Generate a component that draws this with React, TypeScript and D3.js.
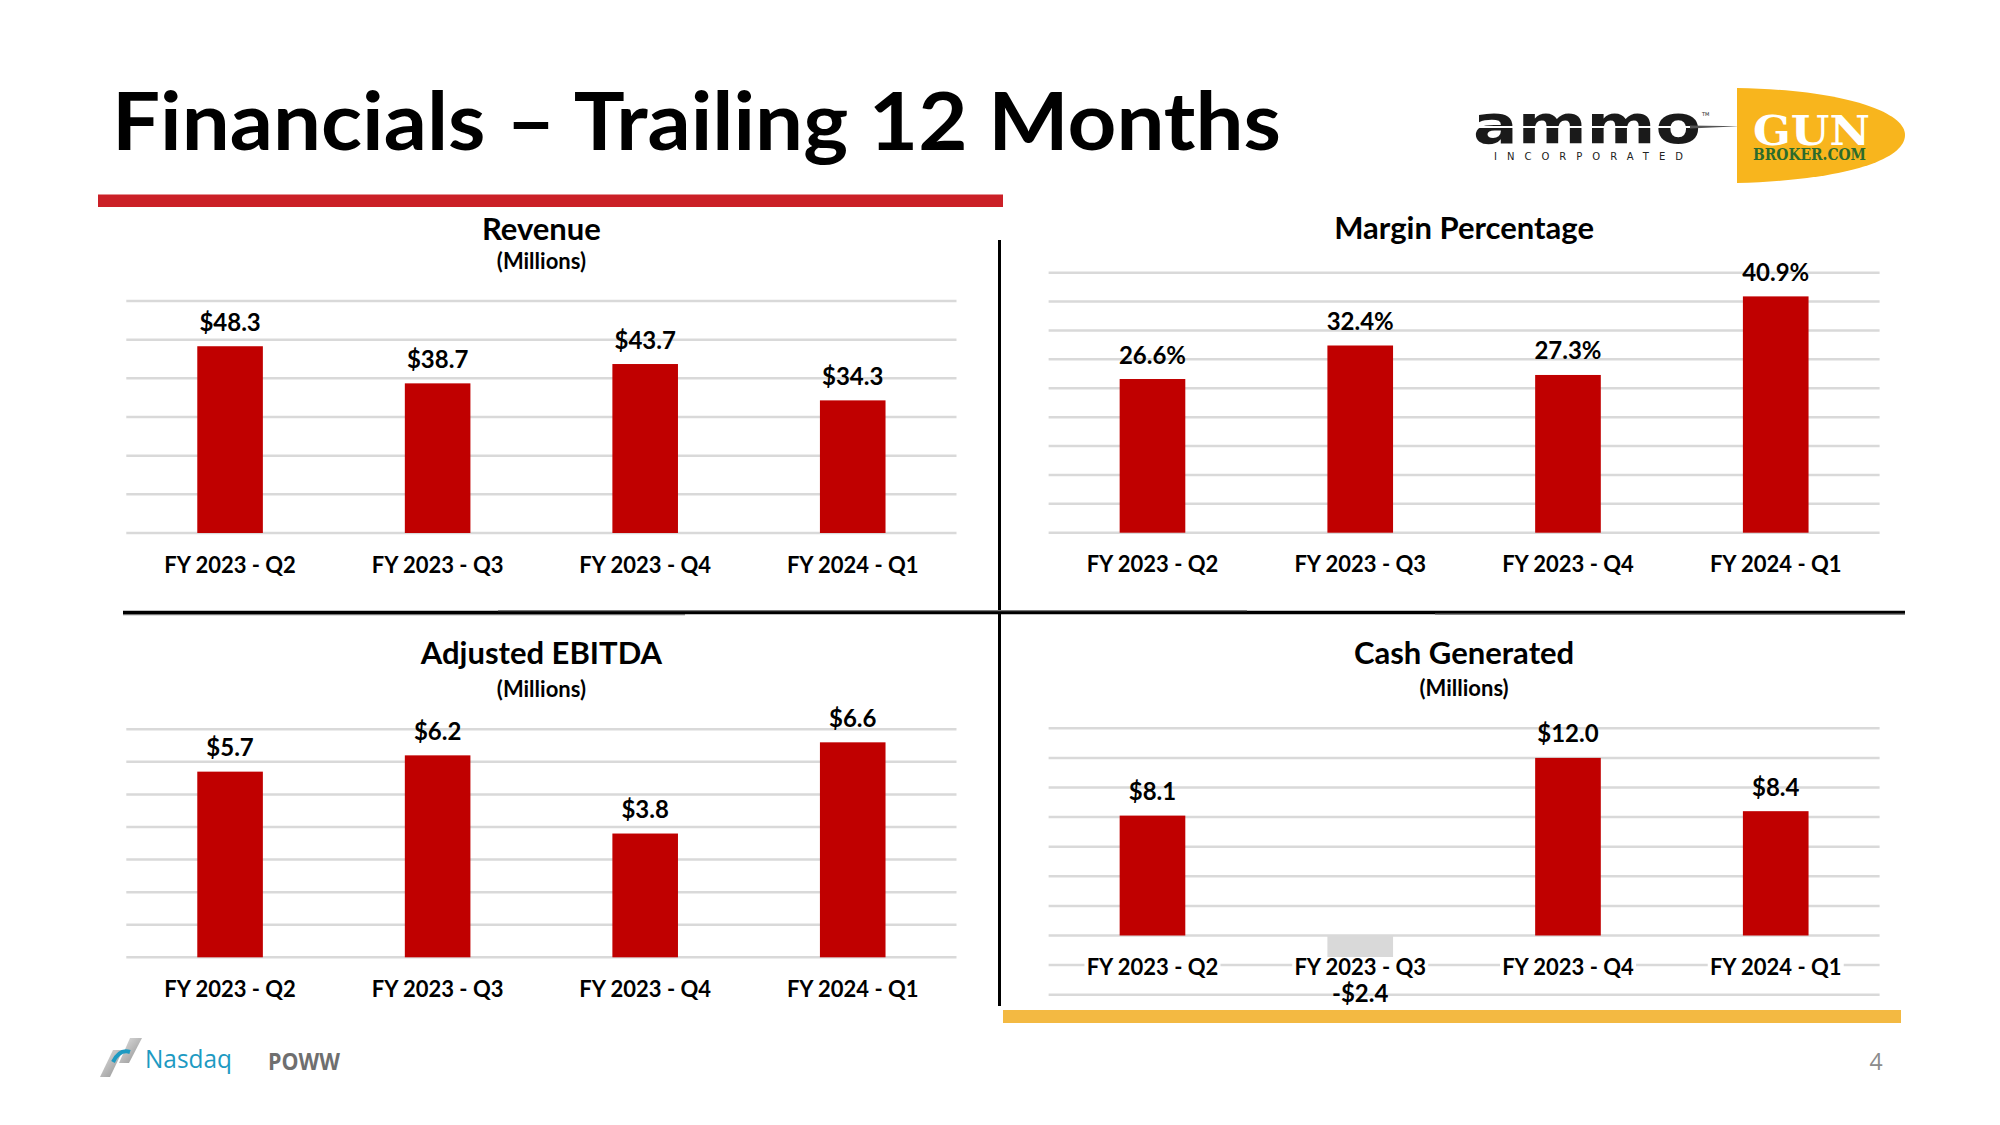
import { useEffect, useRef } from 'react'
import * as d3 from 'd3'

// ---- data ----
const quarters = ['FY 2023 - Q2', 'FY 2023 - Q3', 'FY 2023 - Q4', 'FY 2024 - Q1']
const revenue = [48.3, 38.7, 43.7, 34.3]
const marginPct = [26.6, 32.4, 27.3, 40.9]
const adjEbitda = [5.7, 6.2, 3.8, 6.6]
const cashGenerated = [8.1, -2.4, 12.0, 8.4]

const revenueDomain = [0, 60]
const marginDomain = [0, 45]
const ebitdaDomain = [0, 7]
const cashDomain = [-4, 14]

const W = 2000
const H = 1125
const FONT = 'Lato, "Open Sans", sans-serif'

const money = (v: number) => (v < 0 ? `-$${Math.abs(v).toFixed(1)}` : `$${v.toFixed(1)}`)
const pct = (v: number) => `${v.toFixed(1)}%`

interface Panel {
  title: string
  sub?: string
  values: number[]
  domain: number[]
  ticks: number
  fmt: (v: number) => string
  x0: number
  x1: number
  yTop: number
  yBot: number
  titleY: number
  subY?: number
}

const panels: Panel[] = [
  { title: 'Revenue', sub: '(Millions)', values: revenue, domain: revenueDomain, ticks: 6, fmt: money,
    x0: 126.3, x1: 956.5, yTop: 301, yBot: 533, titleY: 239.5, subY: 269 },
  { title: 'Margin Percentage', values: marginPct, domain: marginDomain, ticks: 9, fmt: pct,
    x0: 1048.6, x1: 1879.6, yTop: 272.7, yBot: 532.7, titleY: 238.5 },
  { title: 'Adjusted EBITDA', sub: '(Millions)', values: adjEbitda, domain: ebitdaDomain, ticks: 7, fmt: money,
    x0: 126.3, x1: 956.5, yTop: 729.3, yBot: 957.3, titleY: 664, subY: 697 },
  { title: 'Cash Generated', sub: '(Millions)', values: cashGenerated, domain: cashDomain, ticks: 9, fmt: money,
    x0: 1048.6, x1: 1879.6, yTop: 728.3, yBot: 994.7, titleY: 663.5, subY: 696 },
]

// squeeze/stretch a left-anchored text horizontally so it spans targetW
function fitText(sel: d3.Selection<SVGTextElement, unknown, null, undefined>, x: number, y: number, targetW: number) {
  const node = sel.node()!
  const w = node.getComputedTextLength() || targetW
  sel.attr('transform', `translate(${x},${y}) scale(${targetW / w},1)`)
}

export default function App() {
  const svgRef = useRef<SVGSVGElement>(null)

  useEffect(() => {
    if (!svgRef.current) return
    const svg = d3.select(svgRef.current)
    svg.selectAll('*').remove()

    svg.append('rect').attr('width', W).attr('height', H).attr('fill', '#fff')

    // title + red rule
    const title = svg.append('text')
      .style('font-family', FONT).style('font-weight', 700).style('font-size', '81px')
      .attr('fill', '#000')
      .text('Financials – Trailing 12 Months')
    fitText(title, 112, 150, 1169)

    svg.append('rect').attr('x', 98).attr('y', 194.5).attr('width', 905).attr('height', 12.5).attr('fill', '#CB2027')

    // dividers
    svg.append('line').attr('x1', 999.5).attr('x2', 999.5).attr('y1', 240).attr('y2', 1006)
      .attr('stroke', '#000').attr('stroke-width', 3)
    svg.append('line').attr('x1', 123).attr('x2', 1905).attr('y1', 612.5).attr('y2', 612.5)
      .attr('stroke', '#000').attr('stroke-width', 3.5)
    const greySegs = [[123, 685, 614.6], [498, 1247, 610.6], [1435, 1905, 614.2]]
    greySegs.forEach(([a, b, y]) => {
      svg.append('line').attr('x1', a).attr('x2', b).attr('y1', y).attr('y2', y)
        .attr('stroke', '#777').attr('stroke-width', 1.2)
    })

    // yellow rule
    svg.append('rect').attr('x', 1003).attr('y', 1010).attr('width', 898).attr('height', 13).attr('fill', '#F3B942')

    // charts
    panels.forEach(p => {
      const g = svg.append('g')
      const x = d3.scaleBand<string>().domain(quarters).range([p.x0, p.x1]).paddingInner(0.684).paddingOuter(0.342)
      const y = d3.scaleLinear().domain(p.domain).range([p.yBot, p.yTop])
      const cx = (p.x0 + p.x1) / 2

      g.append('text').attr('x', cx).attr('y', p.titleY).attr('text-anchor', 'middle')
        .style('font-family', FONT).style('font-weight', 700).style('font-size', '31px')
        .text(p.title)
      if (p.sub) {
        g.append('text').attr('x', cx).attr('y', p.subY!).attr('text-anchor', 'middle')
          .style('font-family', FONT).style('font-weight', 700).style('font-size', '22px')
          .text(p.sub)
      }

      g.selectAll('line.grid').data(y.ticks(p.ticks)).join('line')
        .attr('class', 'grid')
        .attr('x1', p.x0).attr('x2', p.x1)
        .attr('y1', d => y(d)).attr('y2', d => y(d))
        .attr('stroke', '#D9D9D9').attr('stroke-width', 2.5)

      g.selectAll('rect.bar').data(p.values).join('rect')
        .attr('class', 'bar')
        .attr('x', (_, i) => x(quarters[i])!)
        .attr('width', x.bandwidth())
        .attr('y', d => Math.min(y(d), y(0)))
        .attr('height', d => Math.abs(y(d) - y(0)))
        .attr('fill', d => (d < 0 ? '#D9D9D9' : '#C00000'))

      const labelY = y(0) + 39.5
      if (p.domain[0] < 0) {
        g.selectAll('rect.lblbg').data(quarters).join('rect')
          .attr('class', 'lblbg')
          .attr('x', d => x(d)! + x.bandwidth() / 2 - 68)
          .attr('y', labelY - 18).attr('width', 136).attr('height', 24)
          .attr('fill', '#fff')
      }

      g.selectAll('text.cat').data(quarters).join('text')
        .attr('class', 'cat')
        .attr('x', d => x(d)! + x.bandwidth() / 2)
        .attr('y', labelY)
        .attr('text-anchor', 'middle')
        .style('font-family', FONT).style('font-weight', 700).style('font-size', '22px')
        .text(d => d)

      g.selectAll('text.val').data(p.values).join('text')
        .attr('class', 'val')
        .attr('x', (_, i) => x(quarters[i])! + x.bandwidth() / 2)
        .attr('y', d => (d < 0 ? y(d) + 31 : y(d) - 15.5))
        .attr('text-anchor', 'middle')
        .style('font-family', FONT).style('font-weight', 700).style('font-size', '24px')
        .text(d => p.fmt(d))
    })

    // ammo logo (one text element, three runs)
    const logo = svg.append('g')
    const ammo = logo.append('text')
      .style('font-family', '"DejaVu Sans", sans-serif').attr('fill', '#1a1a1a')
    ammo.append('tspan').attr('x', 1473).attr('y', 143)
      .attr('textLength', 228).attr('lengthAdjust', 'spacingAndGlyphs')
      .style('font-weight', 900).style('font-size', '54px').text('ammo')
    ammo.append('tspan').attr('x', 1702).attr('y', 116)
      .style('font-size', '5px').text('TM')
    ammo.append('tspan').attr('x', 1494).attr('y', 160)
      .attr('textLength', 189).attr('lengthAdjust', 'spacing')
      .style('font-size', '10px').attr('fill', '#222').text('INCORPORATED')
    logo.append('rect').attr('x', 1470).attr('y', 126).attr('width', 233).attr('height', 2).attr('fill', '#fff')
    logo.append('polygon').attr('points', '1690,125.4 1740,126.2 1690,128.4').attr('fill', '#555')

    // gunbroker logo
    logo.append('path')
      .attr('d', 'M1737,88 C1845,90 1905,112 1905,135 C1905,160 1845,180 1737,183 Z')
      .attr('fill', '#F8B51D')
    const gb = logo.append('text')
      .style('font-family', '"DejaVu Serif", serif').style('font-weight', 700)
    gb.append('tspan').attr('x', 1753).attr('y', 145)
      .attr('textLength', 117).attr('lengthAdjust', 'spacingAndGlyphs')
      .style('font-size', '41px').attr('fill', '#fff').text('GUN')
    gb.append('tspan').attr('x', 1753).attr('y', 160)
      .attr('textLength', 113).attr('lengthAdjust', 'spacingAndGlyphs')
      .style('font-size', '16px').attr('fill', '#2C6B2C').text('BROKER.COM')

    // footer: nasdaq
    const defs = svg.append('defs')
    const grad = defs.append('linearGradient').attr('id', 'silver').attr('x1', 0).attr('x2', 1).attr('y1', 0).attr('y2', 1)
    grad.append('stop').attr('offset', '0%').attr('stop-color', '#e4e4e4')
    grad.append('stop').attr('offset', '100%').attr('stop-color', '#8e8e8e')
    const foot = svg.append('g')
    foot.append('polygon').attr('points', '100,1077 110,1077 123,1050 113,1050').attr('fill', 'url(#silver)')
    foot.append('polygon').attr('points', '130,1038 142,1038 129,1063 119,1063').attr('fill', 'url(#silver)')
    foot.append('path').attr('d', 'M113,1062 C118,1052 124,1050 130,1052').attr('fill', 'none')
      .attr('stroke', '#1d9ac2').attr('stroke-width', 4)
    const nas = foot.append('text')
      .style('font-family', '"Open Sans", sans-serif').style('font-size', '25px')
      .attr('fill', '#1d9ac2').text('Nasdaq')
    fitText(nas, 145, 1068, 87)
    const poww = foot.append('text')
      .style('font-family', '"Open Sans", sans-serif').style('font-weight', 700).style('font-size', '23px')
      .attr('fill', '#6f6f6f').text('POWW')
    fitText(poww, 268, 1070, 72)
    foot.append('text').attr('x', 1876).attr('y', 1070).attr('text-anchor', 'middle')
      .style('font-family', '"Open Sans", sans-serif').style('font-size', '23px')
      .attr('fill', '#8c8c8c').text('4')
  }, [])

  return (
    <svg ref={svgRef} width={W} height={H} style={{ position: 'absolute', left: 0, top: 0 }} />
  )
}
